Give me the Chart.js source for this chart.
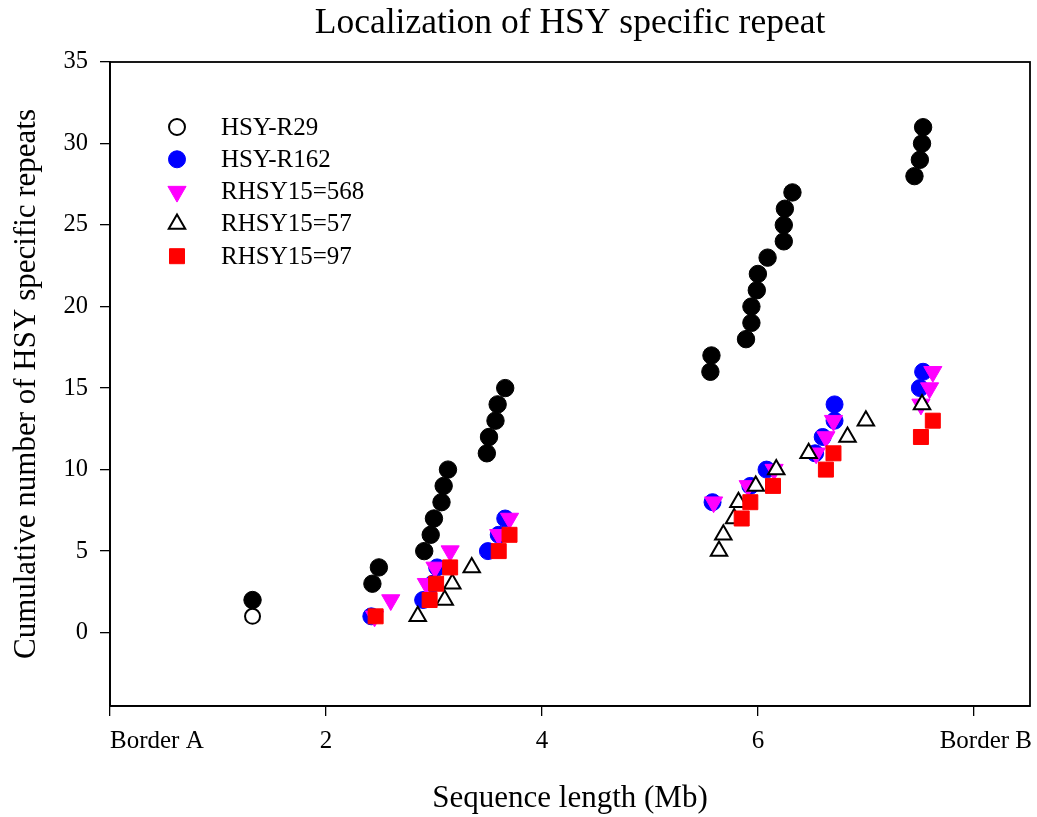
<!DOCTYPE html>
<html>
<head>
<meta charset="utf-8">
<script src="https://cdn.jsdelivr.net/npm/chart.js"></script>
<style>
  html, body { margin: 0; padding: 0; background: #fff; }
  #wrap { width: 1037px; height: 817px; }
</style>
</head>
<body>
<div id="wrap"><canvas id="myChart" width="1037" height="817"></canvas></div>
<script>
// values (x = Mb, y = cumulative count)
const xTicks = [0, 2, 4, 6, 8];
const xTickLabels = ['Border A', '2', '4', '6', 'Border B'];
const yTicks = [0, 5, 10, 15, 20, 25, 30, 35];

// all repeats (filled black, not in legend)
const allX = [1.32, 2.43, 2.49, 2.91, 2.97, 3.00, 3.07, 3.09, 3.13, 3.49, 3.51, 3.57, 3.59, 3.66,
  5.56, 5.57, 5.89, 5.94, 5.94, 5.99, 6.00, 6.09, 6.24, 6.24, 6.25, 6.32, 7.45, 7.50, 7.52, 7.53];
const allY = [2, 3, 4, 5, 6, 7, 8, 9, 10, 11, 12, 13, 14, 15,
  16, 17, 18, 19, 20, 21, 22, 23, 24, 25, 26, 27, 28, 29, 30, 31];

const r29X = [1.32];
const r29Y = [1];

const r162X = [2.42, 2.90, 2.99, 3.03, 3.50, 3.60, 3.66, 5.58, 5.93, 6.08, 6.53, 6.60, 6.71, 6.71, 7.50, 7.53];
const r162Y = [1, 2, 3, 4, 5, 6, 7, 8, 9, 10, 11, 12, 13, 14, 15, 16];

const r568X = [2.45, 2.60, 2.93, 3.01, 3.15, 3.60, 3.70, 5.59, 5.91, 6.15, 6.54, 6.63, 6.70, 7.51, 7.59, 7.62];
const r568Y = [1, 2, 3, 4, 5, 6, 7, 8, 9, 10, 11, 12, 13, 14, 15, 16];

const r57X = [2.85, 3.10, 3.17, 3.35, 5.64, 5.68, 5.78, 5.82, 5.98, 6.17, 6.47, 6.83, 7.00, 7.52];
const r57Y = [1, 2, 3, 4, 5, 6, 7, 8, 9, 10, 11, 12, 13, 14];

const r97X = [2.46, 2.96, 3.02, 3.15, 3.60, 3.70, 5.85, 5.93, 6.14, 6.63, 6.70, 7.51, 7.62];
const r97Y = [1, 2, 3, 4, 5, 6, 7, 8, 9, 10, 11, 12, 13];

const pts = (xs, ys) => xs.map((x, i) => ({ x: x, y: ys[i] }));

const FONT = "'Liberation Serif', 'Times New Roman', serif";

// legend drawn inside the plot, top-left
const insideLegend = {
  id: 'insideLegend',
  afterDraw(chart) {
    const { ctx } = chart;
    const rows = [
      { label: 'HSY-R29', shape: 'circle', fill: '#fff', stroke: '#000', r: 8 },
      { label: 'HSY-R162', shape: 'circle', fill: '#0000ff', stroke: '#0000ff', r: 8.5 },
      { label: 'RHSY15=568', shape: 'down', fill: '#ff00ff', stroke: '#ff00ff', r: 10.5 },
      { label: 'RHSY15=57', shape: 'up', fill: '#fff', stroke: '#000', r: 9.5 },
      { label: 'RHSY15=97', shape: 'rect', fill: '#ff0000', stroke: '#ff0000', r: 10.6 }
    ];
    const x0 = 177, tx = 221;
    let y = 127;
    ctx.save();
    ctx.font = '25px ' + FONT;
    ctx.textBaseline = 'middle';
    rows.forEach(row => {
      ctx.beginPath();
      if (row.shape === 'circle') {
        ctx.arc(x0, y, row.r, 0, Math.PI * 2);
      } else if (row.shape === 'rect') {
        const s = row.r * Math.SQRT1_2;
        ctx.rect(x0 - s, y - s, 2 * s, 2 * s);
      } else {
        const dir = row.shape === 'up' ? 1 : -1;
        const a = Math.PI * 2 / 3;
        for (let k = 0; k < 3; k++) {
          const px = x0 + Math.sin(k * a) * row.r;
          const py = y - dir * Math.cos(k * a) * row.r;
          if (k === 0) ctx.moveTo(px, py); else ctx.lineTo(px, py);
        }
        ctx.closePath();
      }
      ctx.fillStyle = row.fill;
      ctx.fill();
      ctx.lineWidth = row.stroke === '#000' ? 2 : 1;
      ctx.strokeStyle = row.stroke;
      ctx.stroke();
      ctx.fillStyle = '#000';
      ctx.fillText(row.label, tx, y + 1);
      y += 32.3;
    });
    ctx.restore();
  }
};

// full box round the plot area + the two border labels of the x axis
const frame = {
  id: 'frame',
  afterDraw(chart) {
    const { ctx, chartArea: a } = chart;
    ctx.save();
    ctx.strokeStyle = '#000';
    ctx.lineWidth = 1.8;
    ctx.strokeRect(a.left, a.top, a.right - a.left, a.bottom - a.top);

    const xs = chart.scales.x;
    const item = xs.getLabelItems()[1];
    ctx.font = '25px ' + FONT;
    ctx.fillStyle = '#000';
    ctx.textBaseline = item.options.textBaseline;
    const ty = item.options.translation[1] + (item.textOffset || 0);
    ctx.textAlign = 'left';
    ctx.fillText(xTickLabels[0], xs.getPixelForValue(xTicks[0]), ty);
    ctx.textAlign = 'center';
    ctx.fillText(xTickLabels[4], xs.getPixelForValue(xTicks[4]) + 12, ty);
    ctx.restore();
  }
};

const config = {
  type: 'scatter',
  data: {
    datasets: [
      { label: 'RHSY15=97', data: pts(r97X, r97Y), order: 0, pointStyle: 'rect', pointRadius: 10.6,
        backgroundColor: '#ff0000', borderColor: '#ff0000', borderWidth: 1 },
      { label: 'RHSY15=57', data: pts(r57X, r57Y), order: 1, pointStyle: 'triangle', pointRadius: 9.5,
        backgroundColor: '#fff', borderColor: '#000', borderWidth: 2 },
      { label: 'RHSY15=568', data: pts(r568X, r568Y), order: 2, pointStyle: 'triangle', rotation: 180,
        pointRadius: 10.5, backgroundColor: '#ff00ff', borderColor: '#ff00ff', borderWidth: 1 },
      { label: 'HSY-R162', data: pts(r162X, r162Y), order: 3, pointStyle: 'circle', pointRadius: 8.5,
        backgroundColor: '#0000ff', borderColor: '#0000ff', borderWidth: 1 },
      { label: 'all', data: pts(allX, allY), order: 4, pointStyle: 'circle', pointRadius: 8.7,
        backgroundColor: '#000', borderColor: '#000', borderWidth: 1 },
      { label: 'HSY-R29', data: pts(r29X, r29Y), order: 5, pointStyle: 'circle', pointRadius: 7.5,
        backgroundColor: '#fff', borderColor: '#000', borderWidth: 2 }
    ]
  },
  options: {
    responsive: false,
    animation: false,
    events: [],
    layout: { autoPadding: false, padding: { left: 0, right: 7, top: 0, bottom: 0 } },
    plugins: {
      legend: { display: false },
      tooltip: { enabled: false },
      title: {
        display: true,
        fullSize: false,
        text: 'Localization of HSY specific repeat',
        color: '#000',
        font: { family: FONT, size: 35.5, weight: 'normal' },
        padding: { top: 2, bottom: 17.4 }
      }
    },
    scales: {
      x: {
        type: 'linear',
        min: 0,
        max: 8.52,
        afterBuildTicks: s => { s.ticks = xTicks.map(v => ({ value: v })); },
        afterFit: s => { s.height = 111; s.paddingLeft = 0; s.paddingRight = 0; },
        grid: { drawOnChartArea: false, drawTicks: true, tickLength: 10, tickColor: '#000', lineWidth: 1.3 },
        border: { color: '#000', width: 1.8 },
        ticks: {
          color: '#000',
          padding: 10,
          maxRotation: 0,
          font: { family: FONT, size: 25 },
          // the two border labels are placed by the frame plugin
          callback: v => (v === xTicks[0] || v === xTicks[4]) ? '' : xTickLabels[xTicks.indexOf(v)]
        },
        title: {
          display: true,
          text: 'Sequence length (Mb)',
          color: '#000',
          font: { family: FONT, size: 31 },
          padding: { top: 0, bottom: 0 }
        }
      },
      y: {
        type: 'linear',
        min: -4.5,
        max: 35,
        afterBuildTicks: s => { s.ticks = yTicks.map(v => ({ value: v })); },
        afterFit: s => { s.width = 110; },
        grid: { drawOnChartArea: false, drawTicks: true, tickLength: 10, tickColor: '#000', lineWidth: 1.3 },
        border: { color: '#000', width: 1.8 },
        ticks: {
          color: '#000',
          padding: 12,
          font: { family: FONT, size: 24.5 }
        },
        title: {
          display: true,
          text: 'Cumulative number of HSY specific repeats',
          color: '#000',
          font: { family: FONT, size: 31 },
          padding: { top: 8.4, bottom: 0 }
        }
      }
    }
  },
  plugins: [frame, insideLegend]
};

const myChart = new Chart(document.getElementById('myChart'), config);
</script>
</body>
</html>
